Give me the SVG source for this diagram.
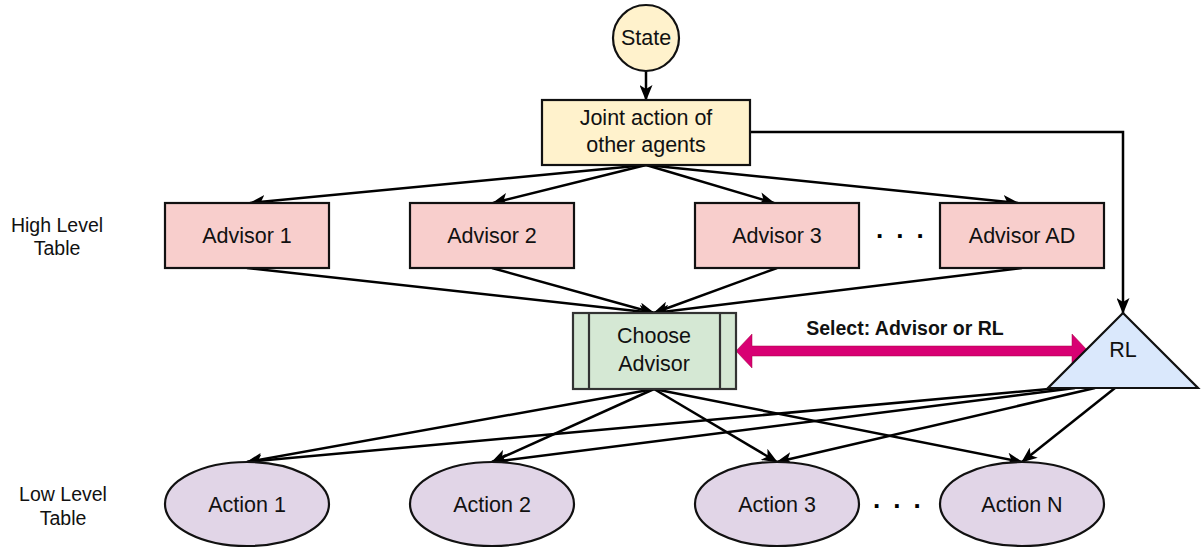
<svg xmlns="http://www.w3.org/2000/svg" width="1202" height="548" viewBox="0 0 1202 548">
<style>
.t{font-family:"Liberation Sans",Arial,Helvetica,sans-serif;font-size:21.5px;fill:#111;text-anchor:middle}
.lbl{font-family:"Liberation Sans",Arial,Helvetica,sans-serif;font-size:19.5px;fill:#111;text-anchor:middle}
.dots{font-family:"Liberation Sans",Arial,Helvetica,sans-serif;font-size:26px;font-weight:bold;fill:#000;letter-spacing:13px}
.e{fill:none;stroke:#000;stroke-width:2.5;marker-end:url(#arr)}
.n{stroke:#111;stroke-width:2.2}
</style>
<defs>
<marker id="arr" markerUnits="userSpaceOnUse" markerWidth="16" markerHeight="13" viewBox="0 0 16 13" refX="15" refY="6.5" orient="auto">
<path d="M0,0 L16,6.5 L0,13 L4,6.5 z" fill="#000"/>
</marker>
</defs>
<rect width="1202" height="548" fill="#fff"/>
<g id="connectors">
<line class="e" x1="646" y1="71" x2="646" y2="100"/>
<line class="e" x1="646" y1="165" x2="250" y2="203"/>
<line class="e" x1="646" y1="165" x2="493" y2="203"/>
<line class="e" x1="646" y1="165" x2="774" y2="203"/>
<line class="e" x1="646" y1="165" x2="1018" y2="203"/>
<polyline class="e" points="750,132 1123,132 1123,313"/>
<line class="e" x1="247" y1="268" x2="654" y2="313"/>
<line class="e" x1="492" y1="268" x2="654" y2="313"/>
<line class="e" x1="777" y1="268" x2="654" y2="313"/>
<line class="e" x1="1022" y1="268" x2="654" y2="313"/>
<line class="e" x1="654" y1="389" x2="247" y2="462"/>
<line class="e" x1="654" y1="389" x2="492" y2="462"/>
<line class="e" x1="654" y1="389" x2="777" y2="462"/>
<line class="e" x1="654" y1="389" x2="1022" y2="462"/>
<line class="e" x1="1060" y1="388" x2="247" y2="462"/>
<line class="e" x1="1075" y1="388" x2="492" y2="462"/>
<line class="e" x1="1095" y1="388" x2="777" y2="462"/>
<line class="e" x1="1115" y1="388" x2="1022" y2="462"/>
<polygon points="736,351 752,334 752,346 1072,346 1072,334 1088,351 1072,368 1072,356 752,356 752,368" fill="#d80073" stroke="#a50040" stroke-width="0.5"/>
<text x="905" y="335" class="lbl" style="font-weight:bold">Select: Advisor or RL</text>
</g>
<g id="state">
<circle class="n" cx="646" cy="38" r="33" fill="#fff2cc"/>
<text class="t" x="646" y="45">State</text>
</g>
<g id="joint">
<rect class="n" x="542" y="100" width="208" height="65" fill="#fff2cc"/>
<text class="t" x="646" y="125">Joint action of</text>
<text class="t" x="646" y="152">other agents</text>
</g>
<g id="adv1"><rect class="n" x="165" y="203" width="164" height="65" fill="#f8cecc"/><text class="t" x="247" y="243">Advisor 1</text></g>
<g id="adv2"><rect class="n" x="410" y="203" width="164" height="65" fill="#f8cecc"/><text class="t" x="492" y="243">Advisor 2</text></g>
<g id="adv3"><rect class="n" x="695" y="203" width="164" height="65" fill="#f8cecc"/><text class="t" x="777" y="243">Advisor 3</text></g>
<g id="advAD"><rect class="n" x="940" y="203" width="164" height="65" fill="#f8cecc"/><text class="t" x="1022" y="243">Advisor AD</text></g>
<g id="dots1"><text class="dots" x="876" y="238">...</text></g>
<g id="choose">
<rect x="573" y="313" width="163" height="76" fill="#d5e8d4" stroke="#333" stroke-width="2.2"/>
<line x1="589" y1="313" x2="589" y2="389" stroke="#333" stroke-width="2.2"/>
<line x1="720" y1="313" x2="720" y2="389" stroke="#333" stroke-width="2.2"/>
<text class="t" x="654" y="343">Choose</text>
<text class="t" x="654" y="371">Advisor</text>
</g>
<g id="rl">
<polygon class="n" points="1123,313 1048,388 1198,388" fill="#dae8fc"/>
<text class="t" x="1123" y="357">RL</text>
</g>
<g id="act1"><ellipse class="n" cx="247" cy="504" rx="82" ry="42" fill="#e1d5e7"/><text class="t" x="247" y="512">Action 1</text></g>
<g id="act2"><ellipse class="n" cx="492" cy="504" rx="82" ry="42" fill="#e1d5e7"/><text class="t" x="492" y="512">Action 2</text></g>
<g id="act3"><ellipse class="n" cx="777" cy="504" rx="82" ry="42" fill="#e1d5e7"/><text class="t" x="777" y="512">Action 3</text></g>
<g id="actN"><ellipse class="n" cx="1022" cy="504" rx="82" ry="42" fill="#e1d5e7"/><text class="t" x="1022" y="512">Action N</text></g>
<g id="dots2"><text class="dots" x="873" y="508">...</text></g>
<g id="labels">
<text class="lbl" x="57" y="232">High Level</text>
<text class="lbl" x="57" y="255">Table</text>
<text class="lbl" x="63" y="501">Low Level</text>
<text class="lbl" x="63" y="525">Table</text>
</g>
</svg>
